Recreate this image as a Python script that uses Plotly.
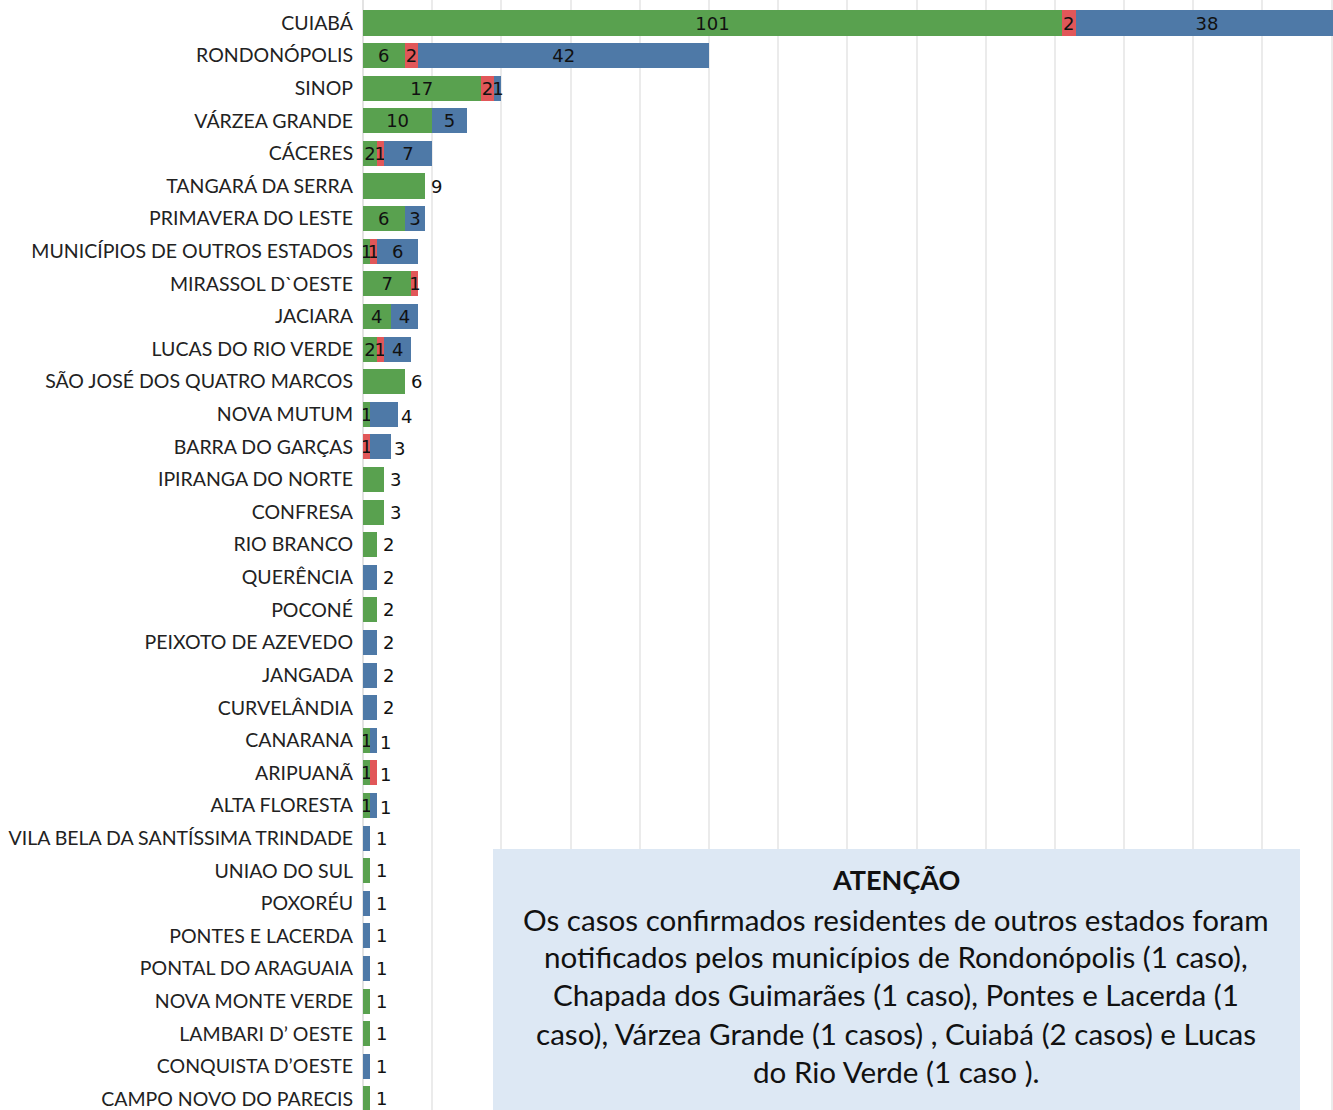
import plotly.graph_objects as go

categories = [
    "CUIABÁ", "RONDONÓPOLIS", "SINOP", "VÁRZEA GRANDE", "CÁCERES",
    "TANGARÁ DA SERRA", "PRIMAVERA DO LESTE", "MUNICÍPIOS DE OUTROS ESTADOS",
    "MIRASSOL D`OESTE", "JACIARA", "LUCAS DO RIO VERDE",
    "SÃO JOSÉ DOS QUATRO MARCOS", "NOVA MUTUM", "BARRA DO GARÇAS",
    "IPIRANGA DO NORTE", "CONFRESA", "RIO BRANCO", "QUERÊNCIA", "POCONÉ",
    "PEIXOTO DE AZEVEDO", "JANGADA", "CURVELÂNDIA", "CANARANA", "ARIPUANÃ",
    "ALTA FLORESTA", "VILA BELA DA SANTÍSSIMA TRINDADE", "UNIAO DO SUL",
    "POXORÉU", "PONTES E LACERDA", "PONTAL DO ARAGUAIA", "NOVA MONTE VERDE",
    "LAMBARI D’ OESTE", "CONQUISTA D’OESTE", "CAMPO NOVO DO PARECIS",
]
green_vals = [101, 6, 17, 10, 2, 9, 6, 1, 7, 4, 2, 6, 1, 0, 3, 3, 2, 0, 2,
              0, 0, 0, 1, 1, 1, 0, 1, 0, 0, 0, 1, 1, 0, 1]
red_vals = [2, 2, 2, 0, 1, 0, 0, 1, 1, 0, 1, 0, 0, 1, 0, 0, 0, 0, 0,
            0, 0, 0, 0, 1, 0, 0, 0, 0, 0, 0, 0, 0, 0, 0]
blue_vals = [38, 42, 1, 5, 7, 0, 3, 6, 0, 4, 4, 0, 4, 3, 0, 0, 0, 2, 0,
             2, 2, 2, 1, 0, 1, 1, 0, 1, 1, 1, 0, 0, 1, 0]
series_names = ["Recuperados", "Óbitos", "Ativos"]
series_colors = ["#59A14F", "#E15759", "#4E79A7"]

note_title = "ATENÇÃO"
note_lines = [
    "Os casos confirmados residentes de outros estados foram",
    "notificados pelos municípios de Rondonópolis (1 caso),",
    "Chapada dos Guimarães (1 caso), Pontes e Lacerda (1",
    "caso), Várzea Grande (1 casos) , Cuiabá (2 casos) e Lucas",
    "do Rio Verde (1 caso ).",
]

all_series = [green_vals, red_vals, blue_vals]
n = len(categories)

# Which label goes outside: last segment of single-segment or small bars
outside = []
for i in range(n):
    vals = [s[i] for s in all_series]
    nz = [k for k, v in enumerate(vals) if v > 0]
    total = sum(vals)
    if len(nz) == 1 or total <= 5:
        outside.append((nz[-1], total, vals[nz[-1]], len(nz)))
    else:
        outside.append(None)

fig = go.Figure()
for k, (vals, name, color) in enumerate(zip(all_series, series_names, series_colors)):
    texts = []
    for i, v in enumerate(vals):
        if v <= 0:
            texts.append("")
        elif outside[i] is not None and outside[i][0] == k:
            texts.append("")
        else:
            texts.append(str(v))
    fig.add_trace(go.Bar(
        y=categories,
        x=[v if v > 0 else None for v in vals],
        orientation="h",
        name=name,
        marker=dict(color=color, line=dict(width=0)),
        text=texts,
        textposition="inside",
        insidetextanchor="middle",
        constraintext="none",
        textangle=0,
        insidetextfont=dict(family="DejaVu Sans", size=18, color="#111111"),
        hoverinfo="x+y+name",
    ))

for i, o in enumerate(outside):
    if o is None:
        continue
    _, total, val, nseg = o
    fig.add_annotation(
        x=total, y=categories[i], xref="x", yref="y",
        text=str(val), showarrow=False, xanchor="left",
        xshift=4 if nseg == 1 else 1, yshift=0 if nseg == 1 else -2,
        font=dict(family="DejaVu Sans", size=18, color="#111111"),
    )

# Note box (paper coords: plot area spans page px x 363-1333, y 0-1110)
def py(p):
    return (1110 - p) / 1110.0

fig.add_shape(type="rect", xref="paper", yref="paper",
              x0=(493 - 363) / 970, x1=(1300 - 363) / 970, y0=-0.02, y1=py(849),
              fillcolor="#DDE8F4", line=dict(width=0), layer="above")
cx = (896 - 363) / 970
fig.add_annotation(xref="paper", yref="paper", x=cx, y=py(879),
                   text="<b>" + note_title + "</b>", showarrow=False,
                   xanchor="center", yanchor="middle",
                   font=dict(family="Lato", size=27, color="#111111"))
line_px = [919, 956, 994, 1033, 1071]
for line, p in zip(note_lines, line_px):
    fig.add_annotation(xref="paper", yref="paper", x=cx, y=py(p),
                       text=line, showarrow=False,
                       xanchor="center", yanchor="middle",
                       font=dict(family="Lato", size=29.6, color="#111111"))

fig.update_layout(
    width=1333, height=1110,
    margin=dict(l=363, r=0, t=0, b=0, pad=0),
    barmode="stack",
    bargap=0.23,
    showlegend=False,
    plot_bgcolor="white",
    paper_bgcolor="white",
    xaxis=dict(range=[0, 140.2], showticklabels=False, showgrid=True,
               gridcolor="#EBEBEB", gridwidth=2, dtick=10, zeroline=True,
               zerolinecolor="#E3E3E3", zerolinewidth=2, fixedrange=True),
    yaxis=dict(categoryorder="array", categoryarray=categories,
               range=[33.34, -0.706], showgrid=False, ticks="",
               ticklabelstandoff=9,
               tickfont=dict(family="Lato", size=19.5, color="#222222")),
)

fig.write_html(
    "out.html",
    config={"displayModeBar": False},
    post_script="document.body.style.margin='0';document.body.style.overflow='hidden';",
)
